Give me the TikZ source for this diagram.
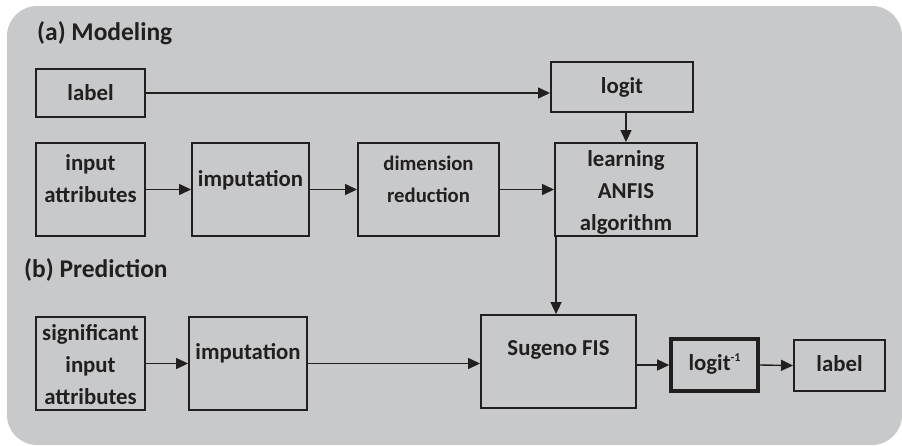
\documentclass[tikz,border=0pt]{standalone}
\usepackage{fontspec}
\setmainfont{Carlito}
\usetikzlibrary{arrows.meta}
\definecolor{bg}{RGB}{200,201,203}
\definecolor{ink}{RGB}{35,31,32}
\begin{document}
\begin{tikzpicture}[x=1pt,y=-1pt,
 box/.style={draw=ink, line width=1.9pt, inner sep=0pt},
 txt/.style={text=ink, font=\fontsize{22.8}{32}\selectfont\bfseries, align=center, inner sep=0pt},
 head/.style={text=ink, font=\fontsize{25.5}{30}\selectfont\bfseries, anchor=west, inner sep=0pt},
 arr/.style={draw=ink, line width=1.4pt, -{Triangle[length=12pt,width=11pt]}}]
\useasboundingbox (0,0) rectangle (902,445);
\fill[bg, rounded corners=30pt] (7,6) rectangle (902,445);
% headings
\node[head] (ha) at (37,33) {(a) Modeling};
\node[head] (hb) at (24,270) {(b) Prediction};
% boxes (a)
\node[box, minimum width=109pt, minimum height=48pt] (label) at (90.5,93) {};
\node[box, minimum width=142pt, minimum height=50pt] (logit) at (622,87) {};
\node[box, minimum width=109pt, minimum height=93pt] (inp) at (90.5,189.5) {};
\node[box, minimum width=117pt, minimum height=93pt] (imp1) at (250.5,189.5) {};
\node[box, minimum width=141pt, minimum height=93pt] (dim) at (428.5,189.5) {};
\node[box, minimum width=142pt, minimum height=93pt] (learn) at (626,189.5) {};
% boxes (b)
\node[box, minimum width=109pt, minimum height=93pt] (sig) at (90.5,363.5) {};
\node[box, minimum width=118pt, minimum height=93pt] (imp2) at (248,363.5) {};
\node[box, minimum width=155pt, minimum height=93pt] (sugeno) at (558.5,361.5) {};
\node[box, line width=3.6pt, minimum width=87pt, minimum height=52pt] (logitinv) at (714.5,365) {};
\node[box, minimum width=91pt, minimum height=51pt] (label2) at (839.5,365.5) {};
% texts
\node[txt] (labelT) at (90.5,93) {label};
\node[txt] (logitT) at (622,87) {logit};
\node[txt] (inpT) at (90.5,179) {input\\attributes};
\node[txt] (imp1T) at (250.5,180) {imputation};
\node[txt, font=\fontsize{20.7}{32}\selectfont\bfseries] (dimT) at (428.5,179) {dimension\\reduction};
\node[txt] (learnT) at (626,192) {learning\\ANFIS\\algorithm};
\node[txt] (sigT) at (90.5,365) {significant\\input\\attributes};
\node[txt] (imp2T) at (248,353) {imputation};
\node[txt] (sugenoT) at (558.5,350) {Sugeno FIS};
\node[txt] (logitinvT) at (714.5,364) {logit\raisebox{0.42em}{\fontsize{12}{12}\selectfont -1}};
\node[txt] (label2T) at (839.5,364) {label};
% connectors
\draw[arr] (label.east) -- (label.east -| logit.west);
\draw[arr] (learn.north |- logit.south) -- (learn.north);
\draw[arr] (inp.east) -- (imp1.west);
\draw[arr] (imp1.east) -- (dim.west);
\draw[arr] (dim.east) -- (learn.west);
\coordinate (ls) at ([xshift=2pt]learn.south west);
\draw[arr] (ls) -- (ls |- sugeno.north);
\draw[arr] (sig.east) -- (imp2.west);
\draw[arr] (imp2.east) -- (imp2.east -| sugeno.west);
\draw[arr] (logitinv.west -| sugeno.east) -- (logitinv.west);
\draw[arr] (logitinv.east) -- (label2.west);
\end{tikzpicture}
\end{document}
